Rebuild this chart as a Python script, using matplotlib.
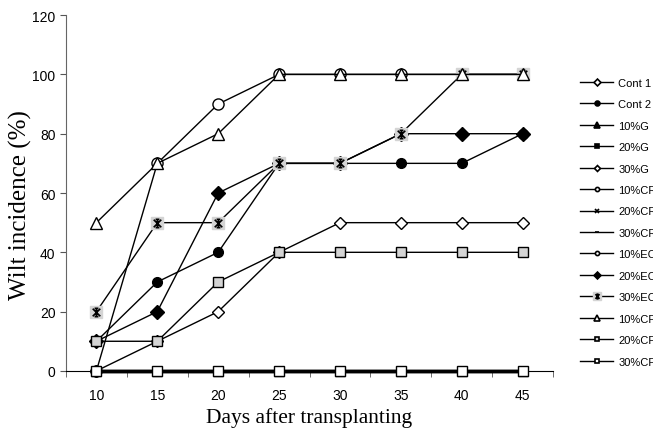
import matplotlib
matplotlib.use("Agg")
import matplotlib.pyplot as plt
from matplotlib.lines import Line2D
from matplotlib.path import Path
from matplotlib.legend_handler import HandlerTuple
import numpy as np

days = [10, 15, 20, 25, 30, 35, 40, 45]
labels = ["Cont 1", "Cont 2", "10%G", "20%G", "30%G", "10%CR", "20%CR", "30%CR",
          "10%EC", "20%EC", "30%EC", "10%CF", "20%CF", "30%CF"]
cont1 = [0, 10, 20, 40, 50, 50, 50, 50]
cont2 = [10, 30, 40, 70, 70, 70, 70, 80]
g10 = [0, 0, 0, 0, 0, 0, 0, 0]
g20 = [0, 0, 0, 0, 0, 0, 0, 0]
g30 = [0, 0, 0, 0, 0, 0, 0, 0]
cr10 = [0, 0, 0, 0, 0, 0, 0, 0]
cr20 = [0, 0, 0, 0, 0, 0, 0, 0]
cr30 = [0, 0, 0, 0, 0, 0, 0, 0]
ec10 = [0, 70, 90, 100, 100, 100, 100, 100]
ec20 = [10, 20, 60, 70, 70, 80, 80, 80]
ec30 = [20, 50, 50, 70, 70, 80, 100, 100]
cf10 = [50, 70, 80, 100, 100, 100, 100, 100]
cf20 = [10, 10, 30, 40, 40, 40, 40, 40]
cf30 = [0, 0, 0, 0, 0, 0, 0, 0]
series = [cont1, cont2, g10, g20, g30, cr10, cr20, cr30, ec10, ec20, ec30, cf10, cf20, cf30]

GRAY = "#d4d4d4"
STAR = Path([(-1, -1), (1, 1), (-1, 1), (1, -1), (0, -1.1), (0, 1.1),
             (-0.5, 1.1), (0.5, 1.1), (-0.5, -1.1), (0.5, -1.1)],
            [Path.MOVETO, Path.LINETO] * 5)

styles = [
    dict(marker="D", mfc="white", mec="black", ms=6.5, lw=1.0, lms=3.5),
    dict(marker="o", mfc="black", mec="black", ms=7, lw=1.0, lms=3.5),
    dict(marker="^", mfc="black", mec="black", ms=7, lw=2.4, lms=4),
    dict(marker="s", mfc="black", mec="black", ms=6, lw=2.4, lms=3.5),
    dict(marker="D", mfc="white", mec="black", ms=4.5, lw=2.4, lms=3),
    dict(marker="o", mfc="white", mec="black", ms=6, lw=1.0, lms=3),
    dict(marker="x", mfc="black", mec="black", ms=6, lw=1.0, lms=3.5),
    dict(marker="_", mfc="black", mec="black", ms=4, lw=1.0, lms=3),
    dict(marker="o", mfc="white", mec="black", ms=8, lw=1.0, lms=3),
    dict(marker="D", mfc="black", mec="black", ms=7, lw=1.0, lms=3.5),
    dict(marker=STAR, mfc="black", mec="black", ms=6, lw=1.0, lms=3.5),
    dict(marker="^", mfc="white", mec="black", ms=9, lw=1.0, lms=4),
    dict(marker="s", mfc=GRAY, mec="black", ms=7.5, lw=1.0, lms=3.5),
    dict(marker="s", mfc="white", mec="black", ms=7.5, lw=1.0, lms=3.5),
]

fig = plt.figure(figsize=(6.53, 4.35), dpi=100)
ax = fig.add_axes([0.101, 0.145, 0.746, 0.818])
x = np.arange(len(days))
handles = []
for i, (vals, st, lab) in enumerate(zip(series, styles, labels)):
    z = 2 + i * 0.1
    if lab == "30%EC":
        ax.plot(x, vals, color="black", lw=1.0, marker="s", ms=8, mfc=GRAY, mec=GRAY,
                zorder=z)
        ax.plot(x, vals, color="none", marker=STAR, ms=6, mec="black", mew=1.2,
                zorder=z + 0.05)
        h_bg = Line2D([], [], color="black", lw=1.0, marker="s", ms=5.5, mfc=GRAY, mec=GRAY)
        h_fg = Line2D([], [], color="none", marker=STAR, ms=3.5, mec="black", mew=1.0)
        handles.append((h_bg, h_fg))
    else:
        ax.plot(x, vals, color="black", lw=st["lw"], marker=st["marker"], ms=st["ms"],
                mfc=st["mfc"], mec=st["mec"], mew=1.0, zorder=z, clip_on=False)
        handles.append(Line2D([], [], color="black", lw=1.0, marker=st["marker"],
                              ms=st["lms"], mfc=st["mfc"], mec=st["mec"], mew=1.2))

ax.set_xlim(-0.5, len(days) - 0.5)
ax.set_ylim(0, 120)
ax.set_yticks(range(0, 121, 20))
ax.set_xticks(x)
ax.set_xticklabels([str(d) for d in days])
ax.set_xticks(np.arange(-0.5, len(days), 1.0), minor=True)
ax.tick_params(axis="x", which="major", length=0, pad=12, labelsize=10)
ax.tick_params(axis="x", which="minor", length=4, direction="out", color="#555555")
ax.tick_params(axis="y", length=4, direction="out", labelsize=10, color="#555555")
for t in ax.get_xticklabels() + ax.get_yticklabels():
    t.set_fontfamily("Liberation Sans")
ax.spines["top"].set_visible(False)
ax.spines["right"].set_visible(False)
ax.spines["left"].set_color("#666666")
ax.spines["bottom"].set_color("black")
ax.set_xlabel("Days after transplanting", fontfamily="Liberation Serif", fontsize=15.5, labelpad=4)
ax.set_ylabel("Wilt incidence (%)", fontfamily="Liberation Serif", fontsize=18)
ax.yaxis.set_label_coords(-0.0698, 0.469)

leg = fig.legend(handles, labels, loc="upper left", bbox_to_anchor=(0.888, 0.819),
                 frameon=False, prop={"family": "Liberation Sans", "size": 8},
                 handlelength=3.0, labelspacing=1.03, handletextpad=0.45,
                 borderaxespad=0, borderpad=0,
                 handler_map={tuple: HandlerTuple(ndivide=1, pad=0)})
fig.savefig("out.png", dpi=100)
